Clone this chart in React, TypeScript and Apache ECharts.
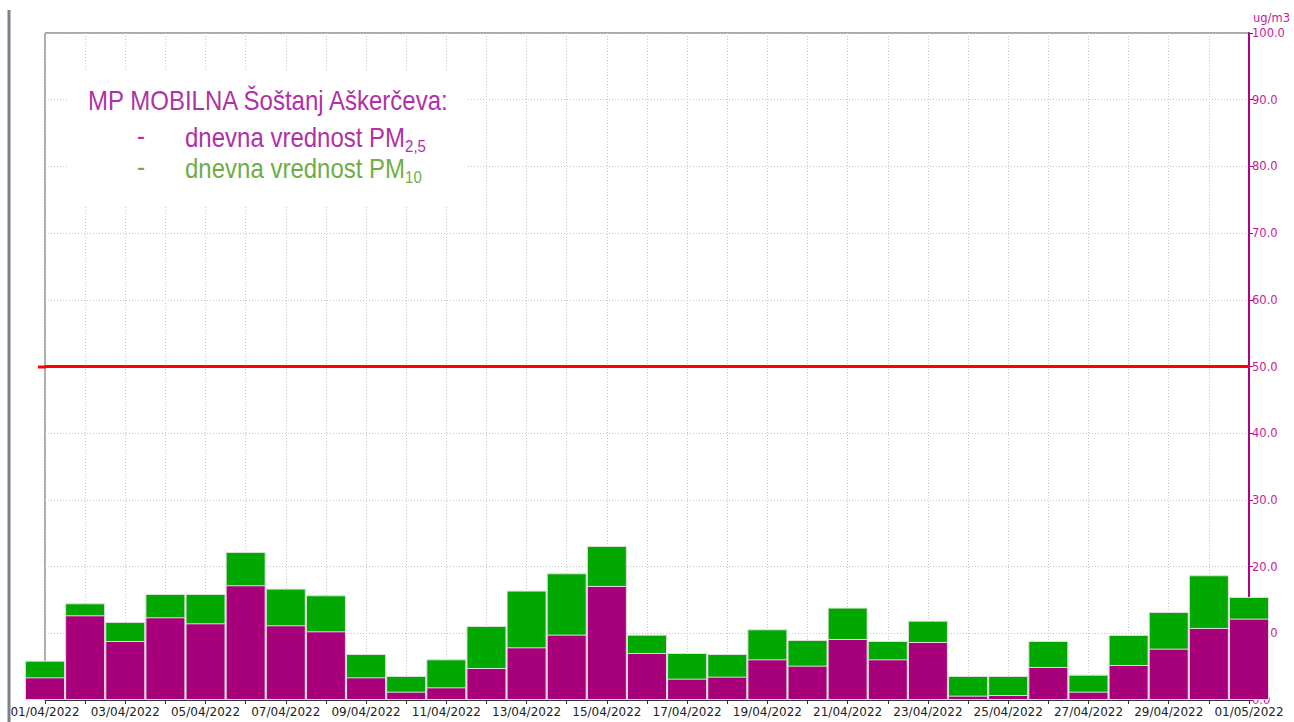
import React, { useEffect, useRef } from "react";
import * as echarts from "echarts";

const dates = [
  "01/04/2022", "02/04/2022", "03/04/2022", "04/04/2022", "05/04/2022", "06/04/2022",
  "07/04/2022", "08/04/2022", "09/04/2022", "10/04/2022", "11/04/2022", "12/04/2022",
  "13/04/2022", "14/04/2022", "15/04/2022", "16/04/2022", "17/04/2022", "18/04/2022",
  "19/04/2022", "20/04/2022", "21/04/2022", "22/04/2022", "23/04/2022", "24/04/2022",
  "25/04/2022", "26/04/2022", "27/04/2022", "28/04/2022", "29/04/2022", "30/04/2022",
  "01/05/2022",
];

const pm25 = [
  3.4, 12.7, 8.85, 12.4, 11.5, 17.2, 11.2, 10.3, 3.4, 1.25,
  1.9, 4.8, 7.9, 9.8, 17.1, 7.05, 3.2, 3.5, 6.1, 5.15,
  9.15, 6.1, 8.7, 0.65, 0.75, 4.95, 1.25, 5.25, 7.7, 10.8,
  12.2,
];

const pm10 = [
  5.9, 14.5, 11.7, 15.9, 15.9, 22.2, 16.7, 15.7, 6.9, 3.6,
  6.1, 11.1, 16.4, 19.0, 23.1, 9.8, 7.05, 6.9, 10.6, 9.0,
  13.85, 8.85, 11.9, 3.6, 3.6, 8.85, 3.8, 9.75, 13.2, 18.7,
  15.45,
];

const limitValue = 50;
const unitName = "ug/m3";
const titleLine = "MP MOBILNA Šoštanj Aškerčeva:";
const seriesLabel = "dnevna vrednost PM";
const sub25 = "2,5";
const sub10 = "10";

const MAGENTA_BAR = "#a8007a";
const GREEN_BAR = "#00a800";
const AXIS_MAG = "#b0008a";
const LABEL_MAG = "#c21c95";
const TEXT_PURPLE = "#b030a8";
const TEXT_GREEN = "#70ad47";

export default function App() {
  const ref = useRef<HTMLDivElement>(null);

  useEffect(() => {
    if (!ref.current) return;
    const chart = echarts.init(ref.current, undefined, { renderer: "svg" });

    const option: any = {
      animation: false,
      backgroundColor: "#ffffff",
      grid: {
        left: 45,
        right: 45,
        top: 33,
        bottom: 22,
        show: true,
        borderColor: "#555555",
        borderWidth: 1,
        backgroundColor: "transparent",
      },
      xAxis: {
        type: "category",
        data: dates,
        boundaryGap: false,
        axisLine: { show: true, lineStyle: { color: "#333333", width: 1 } },
        axisTick: { show: true, interval: 0, length: 4, lineStyle: { color: "#333333" } },
        axisLabel: {
          interval: 1,
          color: "#222222",
          fontFamily: "DejaVu Sans",
          fontSize: 12,
          margin: 6,
        },
        splitLine: {
          show: true,
          interval: 0,
          lineStyle: { color: "#c4c4c4", type: [1, 2], width: 1 },
        },
      },
      yAxis: {
        type: "value",
        position: "right",
        min: 0,
        max: 100,
        interval: 10,
        name: unitName,
        nameLocation: "end",
        nameGap: 9,
        nameTextStyle: {
          color: LABEL_MAG,
          fontFamily: "DejaVu Sans",
          fontSize: 11.5,
          align: "left",
          padding: [0, 0, 0, 4],
        },
        axisLine: { show: true, lineStyle: { color: AXIS_MAG, width: 2 } },
        axisTick: { show: true, inside: false, length: 4, lineStyle: { color: AXIS_MAG } },
        axisLabel: {
          color: LABEL_MAG,
          fontFamily: "DejaVu Sans",
          fontSize: 11.5,
          margin: 3,
          formatter: (v: number) => v.toFixed(1),
        },
        splitLine: {
          show: true,
          lineStyle: { color: "#c4c4c4", type: [1, 2], width: 1 },
        },
      },
      series: [
        {
          name: "PM10",
          type: "bar",
          data: pm10,
          barWidth: 40,
          barGap: "-100%",
          clip: false,
          itemStyle: { color: GREEN_BAR, borderColor: "#dedede", borderWidth: 1 },
          markLine: {
            silent: true,
            symbol: "none",
            label: { show: false },
            lineStyle: { color: "#ff0000", width: 3, type: "solid" },
            data: [{ yAxis: limitValue }],
          },
        },
        {
          name: "PM2.5",
          type: "bar",
          data: pm25,
          barWidth: 40,
          barGap: "-100%",
          clip: false,
          itemStyle: { color: MAGENTA_BAR, borderColor: "#dedede", borderWidth: 1 },
        },
      ],
      graphic: [
        {
          type: "line",
          shape: { x1: 9, y1: 10, x2: 9, y2: 722 },
          style: { stroke: "#7b8088", lineWidth: 3 },
          z: 100,
        },
        {
          type: "line",
          shape: { x1: 38, y1: 367, x2: 46, y2: 367 },
          style: { stroke: "#ff0000", lineWidth: 3 },
          z: 100,
        },
        {
          type: "rect",
          shape: { x: 68, y: 72, width: 400, height: 134 },
          style: { fill: "#ffffff" },
          z: 100,
        },
        {
          type: "text",
          x: 88,
          y: 100,
          scaleY: 1.15,
          z: 101,
          style: {
            text: titleLine,
            fill: TEXT_PURPLE,
            fontFamily: "Liberation Sans",
            fontSize: 24,
            verticalAlign: "middle",
            align: "left",
          },
        },
        {
          type: "text",
          x: 137,
          y: 135,
          scaleY: 1.15,
          z: 101,
          style: {
            text: "-",
            fill: TEXT_PURPLE,
            fontFamily: "Liberation Sans",
            fontSize: 24,
            verticalAlign: "middle",
            align: "left",
          },
        },
        {
          type: "text",
          x: 137,
          y: 166,
          scaleY: 1.15,
          z: 101,
          style: {
            text: "-",
            fill: TEXT_GREEN,
            fontFamily: "Liberation Sans",
            fontSize: 24,
            verticalAlign: "middle",
            align: "left",
          },
        },
        {
          type: "text",
          x: 185,
          y: 137,
          scaleY: 1.15,
          z: 101,
          style: {
            text: "{a|" + seriesLabel + "}{s|" + sub25 + "}",
            fontFamily: "Liberation Sans",
            verticalAlign: "middle",
            align: "left",
            lineHeight: 30,
            rich: {
              a: { fill: TEXT_PURPLE, fontSize: 24, fontFamily: "Liberation Sans", lineHeight: 30 },
              s: { fill: TEXT_PURPLE, fontSize: 15, fontFamily: "Liberation Sans", lineHeight: 30, verticalAlign: "bottom" },
            },
          },
        },
        {
          type: "text",
          x: 185,
          y: 168,
          scaleY: 1.15,
          z: 101,
          style: {
            text: "{a|" + seriesLabel + "}{s|" + sub10 + "}",
            fontFamily: "Liberation Sans",
            verticalAlign: "middle",
            align: "left",
            lineHeight: 30,
            rich: {
              a: { fill: TEXT_GREEN, fontSize: 24, fontFamily: "Liberation Sans", lineHeight: 30 },
              s: { fill: TEXT_GREEN, fontSize: 15, fontFamily: "Liberation Sans", lineHeight: 30, verticalAlign: "bottom" },
            },
          },
        },
      ],
    };

    chart.setOption(option);
    return () => chart.dispose();
  }, []);

  return (
    <div
      ref={ref}
      style={{ position: "fixed", left: 0, top: 0, width: 1294, height: 722, background: "#fff" }}
    />
  );
}
